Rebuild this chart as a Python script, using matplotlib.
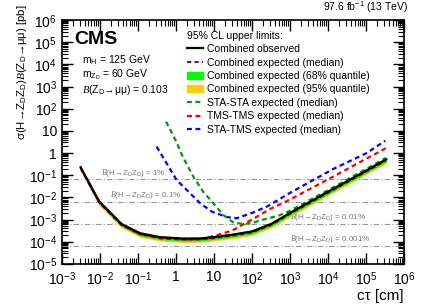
import matplotlib
matplotlib.use("Agg")
import matplotlib.pyplot as plt
import matplotlib.patches as mpatches
import matplotlib.lines as mlines
from matplotlib.ticker import LogLocator, FixedLocator, FixedFormatter, NullFormatter
import numpy as np

plt.rcParams['font.family'] = ['Liberation Sans', 'DejaVu Sans']
plt.rcParams['mathtext.fontset'] = 'custom'
plt.rcParams['mathtext.rm'] = 'Liberation Sans'
plt.rcParams['mathtext.it'] = 'Liberation Serif:italic'
plt.rcParams['mathtext.bf'] = 'Liberation Sans:bold'

# combined observed limit
ctau_obs = [0.0031, 0.0046, 0.0096, 0.037, 0.113, 0.38, 1.55, 4.3, 9.6, 32, 100, 330, 1000, 1e4, 1e5, 3.4e5]
lim_obs = [0.23, 0.066, 6.5e-3, 6.3e-4, 2.4e-4, 1.6e-4, 1.38e-4, 1.4e-4, 1.6e-4, 2.1e-4, 2.9e-4, 6.5e-4, 2e-3, 0.018, 0.16, 0.52]
# expected median and quantile bands (relative to expected)
exp_scale = 0.9
band68 = (0.86, 1.15)
band95 = (0.74, 1.32)

# STA-STA expected
ctau_sta = [0.55, 1.0, 1.5, 2.85, 5.2, 9.6, 17.6, 32, 60, 100, 200, 500, 1000, 1e4, 1e5, 3.3e5]
lim_sta = [26, 3.5, 0.7, 0.087, 0.018, 5.5e-3, 1.6e-3, 7.5e-4, 6.2e-4, 7e-4, 1.0e-3, 1.5e-3, 2.5e-3, 0.021, 0.19, 0.6]
# TMS-TMS expected (follows combined expected at small ctau)
ctau_tms = [0.0031, 0.0046, 0.0096, 0.037, 0.113, 0.38, 1.55, 4.3, 10, 30, 100, 300, 1000, 1e4, 1e5, 3.3e5]
lim_tms = [0.21, 0.06, 5.9e-3, 5.7e-4, 2.2e-4, 1.45e-4, 1.25e-4, 1.3e-4, 1.8e-4, 3.2e-4, 1.0e-3, 3e-3, 8e-3, 0.065, 0.55, 1.65]
# STA-TMS expected
ctau_stt = [0.31, 1.04, 4.3, 8.7, 21.6, 40, 100, 245, 1000, 1.36e4, 1.04e5, 3.2e5]
lim_stt = [1.95, 0.061, 5.5e-3, 2.3e-3, 1.3e-3, 1.15e-3, 2.0e-3, 3.8e-3, 0.016, 0.19, 1.0, 3.6]

# reference lines B(H->ZDZD)
ref_vals = [6.5e-2, 6.5e-3, 6.5e-4, 6.5e-5]
ref_labels = ['1%', '0.1%', '0.01%', '0.001%']
ref_xpos = [0.0105, 0.018, 1000, 1000]

fig = plt.figure(figsize=(4.24, 3.04), dpi=100)
ax = fig.add_axes([0.146, 0.132, 0.807, 0.802])

ctau_obs = np.array(ctau_obs)
lim_exp = np.array(lim_obs) * exp_scale
ax.fill_between(ctau_obs, lim_exp * band95[0], lim_exp * band95[1], color='#FFCC00', lw=0, zorder=2)
ax.fill_between(ctau_obs, lim_exp * band68[0], lim_exp * band68[1], color='#00FF00', lw=0, zorder=3)

dash = (2.2, 1.6)
ax.plot(ctau_stt, lim_stt, color='#0000FF', lw=1.6, dashes=dash, zorder=4)
ax.plot(ctau_tms, lim_tms, color='#FF0000', lw=1.6, dashes=dash, zorder=4)
ax.plot(ctau_sta, lim_sta, color='#009900', lw=1.6, dashes=dash, zorder=4)
ax.plot(ctau_obs, lim_exp, color='#800080', lw=1.4, dashes=dash, zorder=5)
ax.plot(ctau_obs, lim_obs, color='black', lw=1.6, zorder=6)

for v, lab, xp in zip(ref_vals, ref_labels, ref_xpos):
    ax.axhline(v, color='#999999', lw=0.8, ls=(0, (5, 2, 1, 2)), zorder=1)
    ax.text(xp, v * 1.08, r'$\mathit{B}$(H→Z$_\mathrm{D}$Z$_\mathrm{D}$) = ' + lab,
            fontsize=5.8, color='#777777', va='bottom', ha='left', zorder=1)

ax.set_xscale('log')
ax.set_yscale('log')
ax.set_xlim(1e-3, 1e6)
ax.set_ylim(1e-5, 1e6)

xt = [10.0 ** k for k in range(-3, 7)]
xl = [r'$10^{-3}$', r'$10^{-2}$', r'$10^{-1}$', '1', '10', r'$10^{2}$', r'$10^{3}$', r'$10^{4}$', r'$10^{5}$', r'$10^{6}$']
yt = [10.0 ** k for k in range(-5, 7)]
yl = [r'$10^{-5}$', r'$10^{-4}$', r'$10^{-3}$', r'$10^{-2}$', r'$10^{-1}$', '1', '10', r'$10^{2}$', r'$10^{3}$', r'$10^{4}$', r'$10^{5}$', r'$10^{6}$']
ax.xaxis.set_major_locator(FixedLocator(xt))
ax.xaxis.set_major_formatter(FixedFormatter(xl))
ax.yaxis.set_major_locator(FixedLocator(yt))
ax.yaxis.set_major_formatter(FixedFormatter(yl))
ax.xaxis.set_minor_locator(LogLocator(base=10, subs=np.arange(2, 10), numticks=20))
ax.yaxis.set_minor_locator(LogLocator(base=10, subs=np.arange(2, 10), numticks=20))
ax.xaxis.set_minor_formatter(NullFormatter())
ax.yaxis.set_minor_formatter(NullFormatter())
ax.tick_params(which='both', direction='in', top=True, right=True, labelsize=10)
ax.tick_params(which='major', length=8, width=1)
ax.tick_params(which='minor', length=4, width=0.8)
ax.tick_params(axis='x', pad=4.5)
for s in ax.spines.values():
    s.set_linewidth(1.2)

ax.set_ylabel(r'σ(H→Z$_\mathrm{D}$Z$_\mathrm{D}$)$\mathit{B}$(Z$_\mathrm{D}$→μμ) [pb]',
              fontsize=8.2, loc='top')
ax.yaxis.set_label_coords(-0.097, 1.065)
ax.set_xlabel('cτ [cm]', fontsize=11, loc='right')
ax.xaxis.set_label_coords(1.0, -0.103)

fig.text(0.962, 0.975, r'97.6 fb$^{-1}$ (13 TeV)', fontsize=7.5, ha='right', va='center')
ax.text(0.035, 0.955, 'CMS', fontsize=14, fontweight='bold', transform=ax.transAxes, va='top', ha='left')
ax.text(0.06, 0.835, r'm$_\mathrm{H}$ = 125 GeV', fontsize=7.5, transform=ax.transAxes, va='center')
ax.text(0.06, 0.775, r'm$_{\mathrm{Z_D}}$ = 60 GeV', fontsize=7.5, transform=ax.transAxes, va='center')
ax.text(0.06, 0.715, r'$\mathit{B}$(Z$_\mathrm{D}$→μμ) = 0.103', fontsize=7.5,
        transform=ax.transAxes, va='center')

handles = [
    mlines.Line2D([], [], color='black', lw=1.6),
    mlines.Line2D([], [], color='#800080', lw=1.4, dashes=dash),
    mpatches.Patch(color='#00FF00'),
    mpatches.Patch(color='#FFCC00'),
    mlines.Line2D([], [], color='#009900', lw=1.6, dashes=dash),
    mlines.Line2D([], [], color='#FF0000', lw=1.6, dashes=dash),
    mlines.Line2D([], [], color='#0000FF', lw=1.6, dashes=dash),
]
labels = ['Combined observed', 'Combined expected (median)', 'Combined expected (68% quantile)',
          'Combined expected (95% quantile)', 'STA-STA expected (median)', 'TMS-TMS expected (median)',
          'STA-TMS expected (median)']
leg = ax.legend(handles, labels, title='95% CL upper limits:', loc='upper left', bbox_to_anchor=(0.36, 0.965),
                frameon=False, fontsize=7.5, title_fontsize=7.5, handlelength=1.5, handletextpad=0.4,
                labelspacing=0.33, alignment='left', borderaxespad=0, borderpad=0.2)

fig.savefig('out.png', dpi=100)
